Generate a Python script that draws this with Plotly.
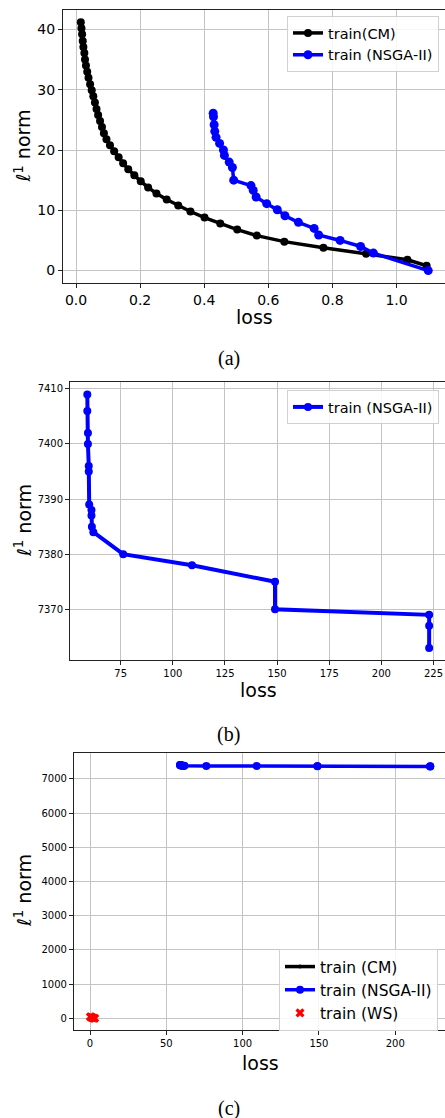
import plotly.graph_objects as go

W, H = 445, 1118

# ---------------- data ----------------
# panel (a): CM front
cm_loss = [0.015, 0.017, 0.019, 0.021, 0.023, 0.026, 0.028, 0.031, 0.035, 0.039,
           0.044, 0.049, 0.054, 0.059, 0.064, 0.069, 0.075, 0.081, 0.087, 0.095,
           0.106, 0.119, 0.133, 0.147, 0.163, 0.182, 0.202, 0.225, 0.251, 0.283,
           0.319, 0.357, 0.401, 0.450, 0.503, 0.564, 0.650, 0.772, 0.905, 1.034, 1.094]
cm_l1 = [41.2, 40.2, 39.2, 38.1, 37.1, 36.1, 35.0, 34.0, 33.0, 32.0,
         30.9, 29.9, 28.9, 27.9, 26.8, 25.8, 24.8, 23.8, 22.8, 21.8,
         20.8, 19.8, 18.8, 17.8, 16.8, 15.8, 14.8, 13.8, 12.8, 11.8,
         10.8, 9.8, 8.8, 7.8, 6.8, 5.8, 4.8, 3.8, 2.8, 1.8, 0.8]

# panel (a): NSGA-II front (small problem)
ns_a_loss = [0.428, 0.429, 0.431, 0.433, 0.437, 0.448, 0.460, 0.463, 0.478, 0.488,
             0.492, 0.546, 0.553, 0.562, 0.595, 0.628, 0.652, 0.694, 0.743, 0.757,
             0.824, 0.888, 0.928, 1.099]
ns_a_l1 = [26.1, 25.5, 24.2, 23.1, 22.1, 21.1, 20.0, 19.1, 18.0, 17.1,
           15.0, 14.1, 13.3, 12.2, 11.1, 10.1, 9.1, 8.0, 7.0, 5.9,
           5.0, 4.0, 2.9, 0.0]

# panel (b)/(c): NSGA-II front (large problem)
ns_b_loss = [59.0, 59.0, 59.3, 59.3, 59.7, 59.7, 59.9, 61.0, 61.0, 61.2,
             61.9, 76.2, 109.2, 149.0, 149.0, 222.9, 222.9, 222.9]
ns_b_l1 = [7409, 7406, 7402, 7400, 7396, 7395, 7389, 7388, 7387, 7385,
           7384, 7380, 7378, 7375, 7370, 7369, 7367, 7363]

# panel (c): weighted-sum solutions
ws_loss = [0.2, 0.6, 1.0, 1.5, 2.0, 2.6, 3.1]
ws_l1 = [45, 36, 27, 18, 10, 4, 1]

# tick labels
a_xticks = [0.0, 0.2, 0.4, 0.6, 0.8, 1.0]
a_yticks = [0, 10, 20, 30, 40]
b_xticks = [75, 100, 125, 150, 175, 200, 225]
b_yticks = [7370, 7380, 7390, 7400, 7410]
c_xticks = [0, 50, 100, 150, 200]
c_yticks = [0, 1000, 2000, 3000, 4000, 5000, 6000, 7000]

FONT = "DejaVu Sans"
BLUE = "#0000ff"

def ydom(top, bottom):
    return [(H - bottom) / H, (H - top) / H]

fig = go.Figure()

# ---- panel (a)
fig.add_trace(go.Scatter(x=cm_loss, y=cm_l1, mode="lines+markers", name="train(CM)",
                         line=dict(color="black", width=3.5),
                         marker=dict(color="black", size=8),
                         xaxis="x", yaxis="y", legend="legend"))
fig.add_trace(go.Scatter(x=ns_a_loss, y=ns_a_l1, mode="lines+markers", name="train (NSGA-II)",
                         line=dict(color=BLUE, width=3.5),
                         marker=dict(color=BLUE, size=9),
                         xaxis="x", yaxis="y", legend="legend"))
# ---- panel (b)
fig.add_trace(go.Scatter(x=ns_b_loss, y=ns_b_l1, mode="lines+markers", name="train (NSGA-II)",
                         line=dict(color=BLUE, width=4),
                         marker=dict(color=BLUE, size=8),
                         xaxis="x2", yaxis="y2", legend="legend2"))
# ---- panel (c)
fig.add_trace(go.Scatter(x=cm_loss, y=cm_l1, mode="lines+markers", name="train (CM)",
                         line=dict(color="black", width=3.5),
                         marker=dict(color="black", size=4),
                         xaxis="x3", yaxis="y3", legend="legend3"))
fig.add_trace(go.Scatter(x=ns_b_loss, y=ns_b_l1, mode="lines+markers", name="train (NSGA-II)",
                         line=dict(color=BLUE, width=3.5),
                         marker=dict(color=BLUE, size=8),
                         xaxis="x3", yaxis="y3", legend="legend3"))
fig.add_trace(go.Scatter(x=ws_loss, y=ws_l1, mode="markers", name="train (WS)",
                         marker=dict(color="red", size=8, symbol="x"),
                         xaxis="x3", yaxis="y3", legend="legend3"))

axis_common = dict(showgrid=True, gridcolor="#c4c4c4", gridwidth=1,
                   showline=True, linecolor="#222222", linewidth=1.2,
                   ticks="outside", ticklen=4, tickwidth=1, tickcolor="#222222",
                   zeroline=False)

fig.update_layout(
    width=W, height=H,
    margin=dict(l=0, r=0, t=0, b=0),
    paper_bgcolor="white", plot_bgcolor="white",
    font=dict(family=FONT, color="black"),
    xaxis=dict(domain=[63 / W, 1], range=[-0.0406, 1.1513], tickvals=a_xticks,
               tickformat=".1f", anchor="y", mirror=True,
               tickfont=dict(size=14), **axis_common),
    yaxis=dict(domain=ydom(9.8, 283), range=[-2.06, 43.26], tickvals=a_yticks,
               anchor="x", tickfont=dict(size=14), **axis_common),
    xaxis2=dict(domain=[70.2 / W, 1], range=[50.8, 230.5], tickvals=b_xticks,
                anchor="y2", mirror=True, tickfont=dict(size=10), **axis_common),
    yaxis2=dict(domain=ydom(381.7, 660), range=[7360.8, 7411.3], tickvals=b_yticks,
                anchor="x2", tickfont=dict(size=10), **axis_common),
    xaxis3=dict(domain=[74 / W, 1], range=[-10.5, 232.6], tickvals=c_xticks,
                anchor="y3", mirror=True, tickfont=dict(size=10), **axis_common),
    yaxis3=dict(domain=ydom(752.7, 1030), range=[-342, 7766], tickvals=c_yticks,
                anchor="x3", tickfont=dict(size=10), **axis_common),
    legend=dict(x=439 / W, y=(H - 16) / H, xanchor="right", yanchor="top",
                bgcolor="rgba(255,255,255,0.85)", bordercolor="#d0d0d0", borderwidth=1,
                font=dict(size=14.5, family=FONT), tracegroupgap=0),
    legend2=dict(x=439 / W, y=(H - 390) / H, xanchor="right", yanchor="top",
                 bgcolor="rgba(255,255,255,0.85)", bordercolor="#d0d0d0", borderwidth=1,
                 font=dict(size=14.5, family=FONT)),
    legend3=dict(x=438 / W, y=(H - 949) / H, xanchor="right", yanchor="top",
                 bgcolor="rgba(255,255,255,0.85)", bordercolor="#d0d0d0", borderwidth=1,
                 font=dict(size=15.5, family=FONT)),
    showlegend=True,
)

ylab = "ℓ<sup>1</sup> norm"
annots = []
for xc, yc in [(254.5, 316.5), (258, 689.5), (260, 1062.5)]:
    annots.append(dict(text="loss", x=xc / W, y=(H - yc) / H, xref="paper", yref="paper",
                       xanchor="center", yanchor="middle", showarrow=False,
                       font=dict(size=19, family=FONT, color="black")))
for xc, yc in [(22, 146.5), (23, 521), (23, 891)]:
    annots.append(dict(text=ylab, x=xc / W, y=(H - yc) / H, xref="paper", yref="paper",
                       xanchor="center", yanchor="middle", showarrow=False, textangle=-90,
                       font=dict(size=19, family=FONT, color="black")))
for lab, yc in [("(a)", 358), ("(b)", 734), ("(c)", 1108)]:
    annots.append(dict(text=lab, x=228.5 / W, y=(H - yc) / H, xref="paper", yref="paper",
                       xanchor="center", yanchor="middle", showarrow=False,
                       font=dict(size=20, family="Liberation Serif", color="black")))
fig.update_layout(annotations=annots)

fig.write_html("out.html")
